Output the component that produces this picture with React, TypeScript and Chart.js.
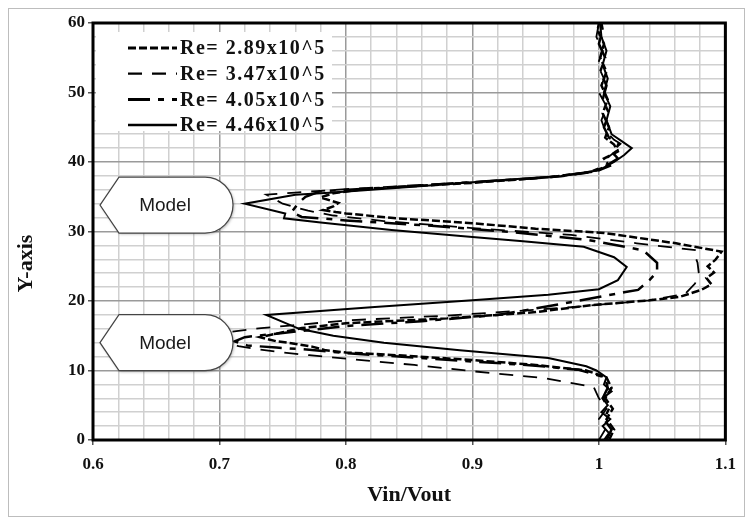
import React, { useEffect, useRef } from 'react';
import { Chart, registerables } from 'chart.js';

Chart.register(...registerables);

type Pt = [number, number]; // [Vin/Vout, Y-axis]

const seriesLabels = ['Re= 2.89x10^5', 'Re= 3.47x10^5', 'Re= 4.05x10^5', 'Re= 4.46x10^5'];

const re289: Pt[] = [
  [1.008, 0], [1.012, 1.5], [1.006, 3], [1.011, 4.5], [1.005, 6], [1.01, 7.5], [1.006, 9],
  [0.99, 10.0], [0.95, 10.8], [0.9, 11.5], [0.85, 12.1], [0.8, 12.6], [0.784, 12.9], [0.774, 13.4],
  [0.758, 13.9], [0.745, 14.2], [0.732, 14.8], [0.75, 15.5], [0.765, 16.1], [0.8, 16.8], [0.88, 17.5],
  [0.95, 18.4], [0.994, 19.4], [1.04, 20.1], [1.064, 20.6], [1.081, 21.6], [1.089, 22.4], [1.085, 23.3],
  [1.091, 24.1], [1.086, 25.0], [1.092, 25.9], [1.097, 27.1], [1.061, 28.3], [1.004, 29.8], [0.95, 30.4],
  [0.9, 31.2], [0.84, 31.9], [0.8, 32.6], [0.792, 32.8], [0.782, 33.1], [0.79, 33.6], [0.794, 34.1],
  [0.78, 34.9], [0.79, 35.5], [0.81, 36.0], [0.85, 36.5], [0.9, 37.0], [0.96, 37.8], [0.995, 38.6],
  [1.008, 39.5], [1.004, 40.5], [1.015, 41.5], [1.012, 42.5], [1.005, 43.5], [1.008, 45], [1.003, 47],
  [1.007, 49], [1.002, 51], [1.006, 53], [1.001, 55], [1.004, 57], [0.999, 59], [1.0, 60],
];

const re347: Pt[] = [
  [1.0, 0], [1.005, 1.5], [1.0, 3], [1.006, 4.5], [1.0, 6], [0.996, 7.6], [0.957, 8.9], [0.9, 9.9],
  [0.854, 10.8], [0.8, 11.7], [0.771, 12.2], [0.745, 12.7], [0.732, 13.0], [0.715, 13.5], [0.7, 14.3],
  [0.705, 15.0], [0.71, 15.6], [0.733, 16.1], [0.758, 16.5], [0.8, 17.2], [0.88, 17.9], [0.93, 18.5],
  [0.978, 19.1], [1.04, 20.1], [1.068, 21.0], [1.076, 22.5], [1.079, 24.0], [1.078, 25.5], [1.076, 26.5],
  [1.077, 27.3], [1.03, 28.3], [0.978, 29.5], [0.9, 30.5], [0.83, 31.5], [0.79, 32.3], [0.77, 33.0],
  [0.75, 34.0], [0.737, 35.3], [0.76, 35.6], [0.8, 36.1], [0.86, 36.7], [0.92, 37.3], [0.97, 37.9],
  [0.998, 38.6], [1.01, 39.5], [1.006, 40.5], [1.013, 41.5], [1.02, 42.3], [1.012, 43.2], [1.005, 44.5],
  [1.002, 46], [1.006, 48], [1.0, 50], [1.004, 52], [0.999, 54], [1.003, 56], [0.998, 58], [1.0, 60],
];

const re405: Pt[] = [
  [1.006, 0], [1.01, 1.5], [1.004, 3], [1.008, 4.5], [1.003, 6], [1.007, 7.5], [1.005, 9.0],
  [0.984, 10.1], [0.95, 10.7], [0.9, 11.3], [0.85, 11.9], [0.8, 12.5], [0.771, 13.0], [0.745, 13.3],
  [0.722, 13.6], [0.712, 14.2], [0.72, 14.8], [0.745, 15.3], [0.77, 15.8], [0.8, 16.4], [0.86, 17.1],
  [0.92, 18.0], [0.94, 18.6], [0.986, 20.1], [1.021, 21.3], [1.031, 21.6], [1.04, 23.0], [1.046, 24.2],
  [1.046, 25.5], [1.035, 27.3], [0.991, 28.8], [0.932, 29.9], [0.87, 30.8], [0.8, 31.6], [0.765, 32.1],
  [0.757, 32.8], [0.762, 34.0], [0.768, 35.0], [0.78, 35.8], [0.84, 36.4], [0.9, 37.1], [0.96, 37.8],
  [0.992, 38.5], [1.006, 39.5], [1.015, 40.5], [1.01, 41.5], [1.016, 42.5], [1.008, 43.5], [1.004, 45],
  [1.008, 47], [1.003, 49], [1.006, 51], [1.001, 53], [1.005, 55], [1.0, 57], [1.003, 59], [1.002, 60],
];

const re446: Pt[] = [
  [1.004, 0], [1.008, 1], [1.003, 2], [1.009, 3], [1.002, 4], [1.007, 5], [1.003, 6], [1.01, 7],
  [1.004, 8], [1.006, 9], [0.998, 10], [0.99, 10.6], [0.96, 11.8], [0.89, 12.9], [0.83, 14.0],
  [0.79, 15.0], [0.763, 16.0], [0.737, 18.0], [0.82, 19.1], [0.9, 20.1], [0.96, 20.9], [1.0, 21.7],
  [1.015, 23.0], [1.022, 24.9], [1.012, 26.3], [0.988, 27.8], [0.94, 28.6], [0.9, 29.2], [0.836, 30.2],
  [0.78, 31.3], [0.751, 31.9], [0.752, 32.6], [0.72, 34.0], [0.76, 35.3], [0.79, 35.6], [0.85, 36.4],
  [0.924, 37.4], [0.97, 38.0], [1.0, 38.8], [1.012, 40.0], [1.02, 41.0], [1.026, 42.0], [1.018, 43.0],
  [1.01, 44.0], [1.006, 46], [1.009, 48], [1.004, 50], [1.007, 52], [1.003, 54], [1.006, 56],
  [1.002, 58], [1.001, 60],
];

const seriesData: Pt[][] = [re289, re347, re405, re446];

const xMin = 0.6;
const xMax = 1.1;
const xStep = 0.02;
const yMin = 0;
const yMax = 60;
const yStep = 2;

const xAxisTitle = 'Vin/Vout';
const yAxisTitle = 'Y-axis';

const calloutLabels = ['Model', 'Model'];
const calloutY = [33.8, 14.0];

// styles
const seriesDash: number[][] = [[8, 3], [14, 10], [22, 8, 6, 8], []];
const seriesWidth = [2.5, 1.8, 2.5, 2];
const SERIF = '"Liberation Serif", "Times New Roman", serif';

const isMajorX = (v: number) => Math.abs(v * 10 - Math.round(v * 10)) < 1e-6;
const isMajorY = (v: number) => Math.abs(v / 10 - Math.round(v / 10)) < 1e-6;

const decorPlugin = {
  id: 'decor',
  beforeDraw(chart: any) {
    const { ctx, width, height } = chart;
    ctx.save();
    ctx.fillStyle = '#ffffff';
    ctx.fillRect(0, 0, width, height);
    ctx.strokeStyle = '#bdbdbd';
    ctx.lineWidth = 1;
    ctx.strokeRect(0.5, 0.5, width - 1, height - 1);
    ctx.restore();
  },
  afterDatasetsDraw(chart: any) {
    const { ctx, chartArea } = chart;
    const { left, top, right, bottom } = chartArea;
    const yScale = chart.scales.y;
    ctx.save();

    // plot frame
    ctx.strokeStyle = '#000';
    ctx.lineWidth = 3;
    ctx.strokeRect(left, top, right - left, bottom - top);

    // legend
    ctx.fillStyle = '#fff';
    ctx.fillRect(left + 3, top + 9, 236, 99);
    ctx.font = `bold 20px ${SERIF}`;
    try { (ctx as any).letterSpacing = '1.5px'; } catch (e) { /* ignore */ }
    ctx.textBaseline = 'middle';
    ctx.textAlign = 'left';
    seriesLabels.forEach((lab, i) => {
      const yy = top + 25 + i * 25.7;
      ctx.beginPath();
      ctx.setLineDash(seriesDash[i]);
      ctx.lineWidth = seriesWidth[i] + 0.5;
      ctx.strokeStyle = '#000';
      ctx.moveTo(left + 35, yy);
      ctx.lineTo(left + 84, yy);
      ctx.stroke();
      ctx.setLineDash([]);
      ctx.fillStyle = '#111';
      ctx.fillText(lab, left + 87, yy + 1);
    });
    try { (ctx as any).letterSpacing = '0px'; } catch (e) { /* ignore */ }

    // callouts
    calloutLabels.forEach((lab, i) => {
      const cy = yScale.getPixelForValue(calloutY[i]);
      const h = 28;
      const x0 = left + 7;
      const x1 = left + 26;
      const x2 = left + 112;
      ctx.save();
      ctx.shadowColor = 'rgba(0,0,0,0.35)';
      ctx.shadowBlur = 3;
      ctx.shadowOffsetX = 1;
      ctx.shadowOffsetY = 1;
      ctx.beginPath();
      ctx.moveTo(x0, cy);
      ctx.lineTo(x1, cy - h);
      ctx.lineTo(x2, cy - h);
      ctx.arc(x2, cy, h, -Math.PI / 2, Math.PI / 2, false);
      ctx.lineTo(x1, cy + h);
      ctx.closePath();
      ctx.fillStyle = '#fff';
      ctx.fill();
      ctx.restore();
      ctx.beginPath();
      ctx.moveTo(x0, cy);
      ctx.lineTo(x1, cy - h);
      ctx.lineTo(x2, cy - h);
      ctx.arc(x2, cy, h, -Math.PI / 2, Math.PI / 2, false);
      ctx.lineTo(x1, cy + h);
      ctx.closePath();
      ctx.strokeStyle = '#444';
      ctx.lineWidth = 1.2;
      ctx.stroke();
      ctx.fillStyle = '#1a1a1a';
      ctx.font = '19px "Liberation Sans", Arial, sans-serif';
      ctx.textAlign = 'center';
      ctx.textBaseline = 'middle';
      ctx.fillText(lab, left + 72, cy + 1);
    });

    ctx.restore();
  },
  afterDraw(chart: any) {
    const { ctx, chartArea } = chart;
    const { left, top, right, bottom } = chartArea;
    ctx.save();
    ctx.fillStyle = '#111';
    ctx.font = `bold 22px ${SERIF}`;
    ctx.textAlign = 'center';
    ctx.textBaseline = 'middle';
    ctx.fillText(xAxisTitle, (left + right) / 2, bottom + 55);
    ctx.translate(18, top + (bottom - top) * 0.577);
    ctx.rotate(-Math.PI / 2);
    ctx.fillText(yAxisTitle, 0, 0);
    ctx.restore();
  },
};

export default function App() {
  const ref = useRef<HTMLCanvasElement | null>(null);

  useEffect(() => {
    if (!ref.current) return;
    const tickFont = { family: SERIF, size: 17, weight: 'bold' as const };
    const chart = new Chart(ref.current, {
      type: 'scatter',
      data: {
        datasets: seriesData.map((s, i) => ({
          label: seriesLabels[i],
          data: s.map(([x, y]) => ({ x, y })),
          showLine: true,
          borderColor: '#000',
          backgroundColor: '#000',
          borderWidth: seriesWidth[i],
          borderDash: seriesDash[i],
          pointRadius: 0,
          pointHoverRadius: 0,
          tension: 0,
          fill: false,
        })),
      },
      options: {
        animation: false,
        responsive: false,
        maintainAspectRatio: false,
        layout: { padding: { top: 15, right: 8, left: 0, bottom: 0 } },
        plugins: { legend: { display: false }, tooltip: { enabled: false } },
        scales: {
          x: {
            type: 'linear',
            min: xMin,
            max: xMax,
            border: { display: false },
            grid: {
              color: (c: any) => (isMajorX(c.tick.value) ? '#9a9a9a' : '#d0d0d0'),
              lineWidth: 1.5,
              tickLength: 5,
              tickColor: (c: any) => (isMajorX(c.tick.value) ? '#555' : 'rgba(0,0,0,0)'),
            },
            ticks: {
              stepSize: xStep,
              autoSkip: false,
              maxRotation: 0,
              minRotation: 0,
              padding: 9,
              color: '#111',
              font: tickFont,
              callback: (v: any) => (isMajorX(Number(v)) ? String(Math.round(Number(v) * 10) / 10) : ''),
            },
            afterFit: (s: any) => { s.height = 77; },
          },
          y: {
            type: 'linear',
            min: yMin,
            max: yMax,
            border: { display: false },
            grid: {
              color: (c: any) => (isMajorY(c.tick.value) ? '#9a9a9a' : '#d0d0d0'),
              lineWidth: 1.5,
              tickLength: 5,
              tickColor: (c: any) => (isMajorY(c.tick.value) ? '#555' : 'rgba(0,0,0,0)'),
            },
            ticks: {
              stepSize: yStep,
              autoSkip: false,
              padding: 3,
              color: '#111',
              font: tickFont,
              callback: (v: any) => (isMajorY(Number(v)) ? String(Math.round(Number(v))) : ''),
            },
            afterFit: (s: any) => { s.width = 85; },
          },
        },
      },
      plugins: [decorPlugin],
    });
    return () => chart.destroy();
  }, []);

  return (
    <div style={{ width: 737, height: 509 }}>
      <canvas ref={ref} width={737} height={509} />
    </div>
  );
}
